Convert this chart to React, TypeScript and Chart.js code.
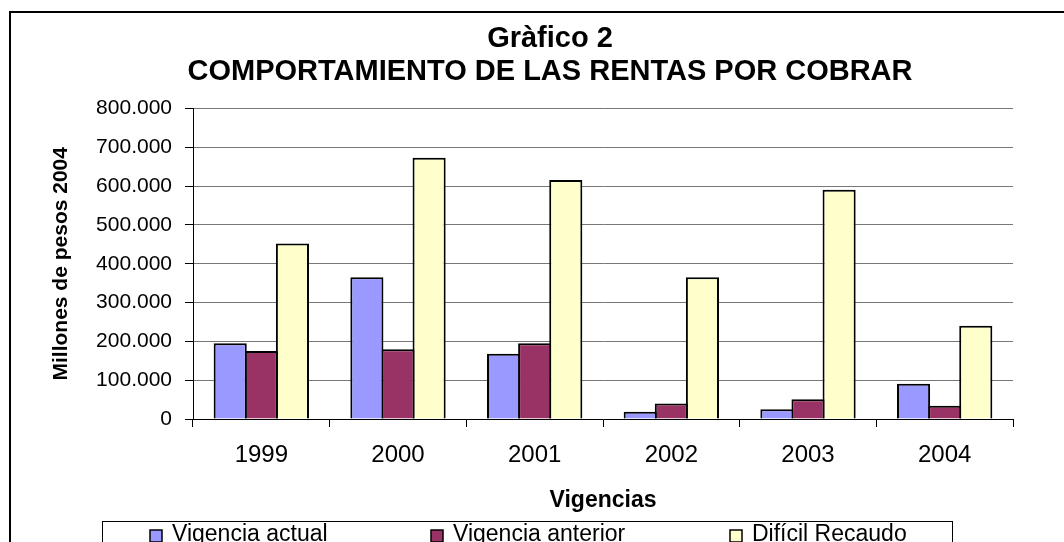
import React, { useEffect, useRef } from 'react';
import { Chart, registerables } from 'chart.js';

Chart.register(...registerables);

const categories = ['1999', '2000', '2001', '2002', '2003', '2004'];
const vigenciaActual = [195000, 365000, 168000, 19000, 25000, 91000];
const vigenciaAnterior = [175000, 180000, 195000, 40000, 51000, 34000];
const dificilRecaudo = [452000, 673000, 616000, 365000, 591000, 240000];
const seriesLabels = ['Vigencia actual', 'Vigencia anterior', 'Difícil Recaudo'];
const seriesColors = ['#9999FF', '#993366', '#FFFFCC'];
const titleLines = ['Gràfico 2', 'COMPORTAMIENTO DE LAS RENTAS POR COBRAR'];
const yAxisTitle = 'Millones de pesos 2004';
const xAxisTitle = 'Vigencias';
const yMin = 0;
const yMax = 800000;
const yStep = 100000;

const FONT = '"Liberation Sans", Arial, Helvetica, sans-serif';

const formatThousands = (v: number) => {
  if (v === 0) return '0';
  const s = Math.round(v).toString();
  return s.replace(/\B(?=(\d{3})+(?!\d))/g, '.');
};

const framePlugin = {
  id: 'frame',
  beforeDraw(chart: any) {
    const ctx = chart.ctx;
    ctx.save();
    ctx.fillStyle = '#ffffff';
    ctx.fillRect(0, 0, chart.width, chart.height);
    ctx.strokeStyle = '#000000';
    ctx.lineWidth = 2;
    ctx.strokeRect(10, 12, 1200, 700);
    ctx.restore();
  },
};

const legendMarkerX = [150, 431, 730];

const boxedLegendPlugin = {
  id: 'boxedLegend',
  afterDraw(chart: any) {
    const ctx = chart.ctx;
    ctx.save();
    ctx.strokeStyle = '#000000';
    ctx.lineWidth = 1;
    ctx.strokeRect(102.5, 521.5, 850, 80);
    chart.data.datasets.forEach((ds: any, i: number) => {
      const x = legendMarkerX[i];
      const y = 530;
      ctx.fillStyle = ds.backgroundColor;
      ctx.fillRect(x, y, 12, 12);
      ctx.lineWidth = 1.5;
      ctx.strokeStyle = '#000000';
      ctx.strokeRect(x, y, 12, 12);
      ctx.fillStyle = '#000000';
      ctx.font = `23px ${FONT}`;
      ctx.textBaseline = 'alphabetic';
      ctx.textAlign = 'left';
      ctx.fillText(ds.label, x + 22, 541);
    });
    ctx.restore();
  },
};

export default function App() {
  const canvasRef = useRef<HTMLCanvasElement | null>(null);

  useEffect(() => {
    const canvas = canvasRef.current;
    if (!canvas) return;
    const seriesData = [vigenciaActual, vigenciaAnterior, dificilRecaudo];
    const chart = new Chart(canvas, {
      type: 'bar',
      data: {
        labels: categories,
        datasets: seriesData.map((d, i) => ({
          label: seriesLabels[i],
          data: d,
          yAxisID: 'y',
          backgroundColor: seriesColors[i],
          borderColor: '#000000',
          borderWidth: 2,
          borderSkipped: 'start',
          categoryPercentage: 0.683,
          barPercentage: 1.064,
        })),
      },
      options: {
        animation: false,
        responsive: false,
        devicePixelRatio: 1,
        layout: { padding: { left: 40, right: 4, top: 0, bottom: 24 } },
        plugins: {
          legend: { display: false },
          tooltip: { enabled: false },
          title: {
            display: true,
            text: titleLines,
            color: '#000000',
            font: { family: FONT, size: 29, weight: 'bold', lineHeight: 1.13 },
            padding: { top: 23, bottom: 20 },
          },
        },
        scales: {
          x: {
            grid: {
              display: true,
              drawOnChartArea: false,
              drawTicks: true,
              tickLength: 8,
              color: '#000000',
              offset: true,
            },
            border: { display: true, color: '#000000', width: 1 },
            ticks: { color: '#000000', font: { family: FONT, size: 24 }, padding: 14 },
            title: {
              display: true,
              text: xAxisTitle,
              color: '#000000',
              font: { family: FONT, size: 23, weight: 'bold' },
              padding: { top: 0, bottom: 4 },
            },
            afterFit: (s: any) => {
              s.height = 99;
            },
          },
          y: {
            min: yMin,
            max: yMax,
            ticks: {
              stepSize: yStep,
              color: '#000000',
              font: { family: FONT, size: 21 },
              padding: 13,
              callback: (v: any) => formatThousands(Number(v)),
            },
            grid: { color: '#777777', tickColor: '#000000', tickLength: 8, lineWidth: 1 },
            border: { display: true, color: '#000000', width: 1 },
            title: {
              display: true,
              text: yAxisTitle,
              color: '#000000',
              font: { family: FONT, size: 21, weight: 'bold' },
              padding: { top: 9, bottom: 0 },
            },
            afterFit: (s: any) => {
              s.width = 153;
            },
          },
          yRight: {
            position: 'right',
            display: true,
            min: yMin,
            max: yMax,
            ticks: { display: false },
            grid: { display: false, drawOnChartArea: false },
            border: { display: false },
            title: { display: false },
            afterFit: (s: any) => {
              s.width = 47;
            },
          },
        },
      },
      plugins: [framePlugin, boxedLegendPlugin],
    } as any);
    return () => chart.destroy();
  }, []);

  return (
    <canvas
      ref={canvasRef}
      width={1064}
      height={542}
      style={{ position: 'fixed', left: 0, top: 0, width: '1064px', height: '542px' }}
    />
  );
}
